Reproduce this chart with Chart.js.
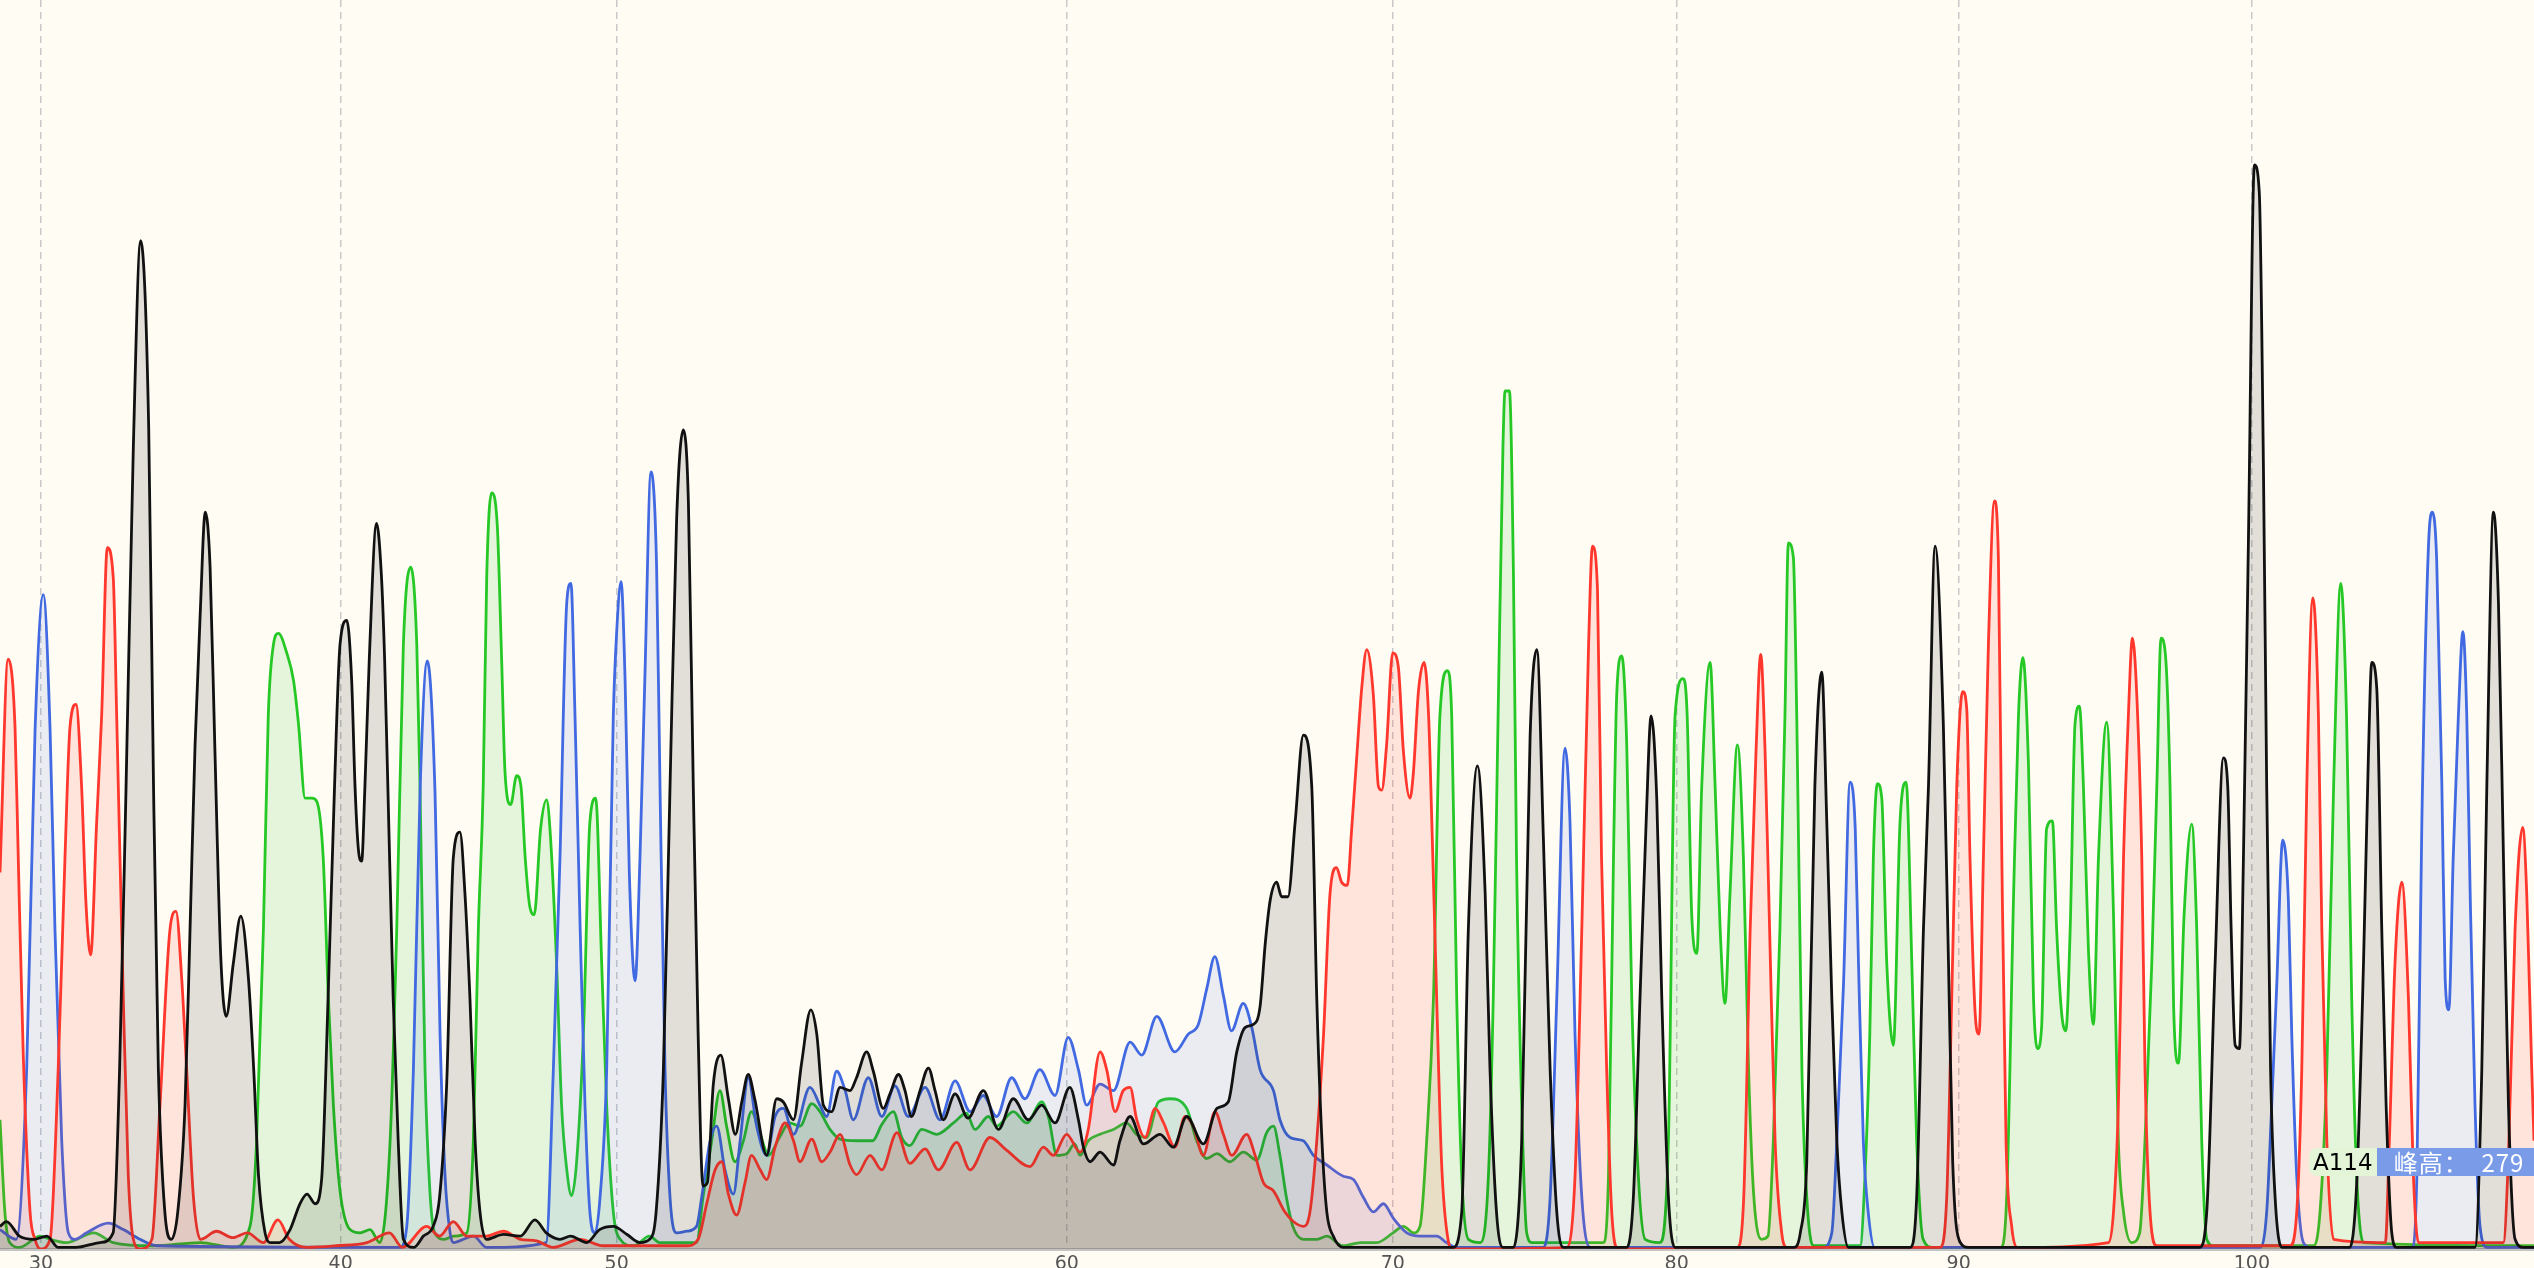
<!DOCTYPE html>
<html>
<head>
<meta charset="utf-8">
<script src="https://cdn.jsdelivr.net/npm/chart.js@4.4.1/dist/chart.umd.min.js"></script>
<style>
  html, body { margin: 0; padding: 0; background: #fffcf4; overflow: hidden; }
  #wrap { position: relative; width: 2534px; height: 1268px; }
  #peakTip { position: absolute; left: 2309px; top: 1148px; height: 28px; display: flex; font-family: "DejaVu Sans", "Noto Sans CJK SC", sans-serif; font-size: 23px; line-height: 28px; }
  #peakTip .base { background: #e3f5d6; color: #000; padding: 0 4px 0 4px; border-radius: 8px 0 0 8px; }
  #peakTip .height { background: #7a9be8; color: #fff; width: 141px; padding-left: 17px; white-space: pre; font-size: 24px; letter-spacing: 1px; font-family: "Noto Sans CJK SC", sans-serif; }
</style>
</head>
<body>
<div id="wrap">
  <canvas id="trace"></canvas>
  <div id="peakTip"><span class="base">A114</span><span class="height">峰高：  279</span></div>
</div>
<script>
// scan position of each labelled base, and its label
const tickScans = [25.4, 210.8, 381.6, 660.1, 861.8, 1037.5, 1212, 1393.4];
const tickLabels = ['30', '40', '50', '60', '70', '80', '90', '100'];

// traces: [scan, signal]
const traceG = [[0,14],[4,17],[12,8],[21,6],[29,8],[36,1],[47,1],[62,4],[70,10],[74,111],[78,286],[82.5,496],[87,624],[92,509],[95,286],[98,111],[102,23],[106,6],[110,23],[114.5,89],[117.6,198],[120.7,312],[124,396],[127,456],[130,422],[133,308],[136.6,181],[140,144],[144.4,177],[149,206],[153.7,168],[157,111],[160,45],[164,10],[167,4],[173,4],[179.5,12],[185.6,28],[190,34],[195,28],[199,43],[203,155],[207,286],[210.4,374],[214.6,389],[217.6,352],[219.7,286],[221.8,247],[223.8,240],[225.8,286],[228.5,365],[233,449],[236,417],[238,365],[240,286],[243.3,155],[246.4,67],[249.6,6],[256,1],[262,8],[268,14],[272,32],[276.4,102],[280.5,242],[284.6,258],[287.7,220],[290.8,155],[294,67],[297,23],[301,6],[311.5,9],[322,8],[331,18],[338,10],[346.5,6],[353,8],[363,4],[371,12],[379.5,14],[388,9],[396,4],[402,6],[406,23],[410.5,111],[414.6,286],[418.7,452],[422.8,507],[426,461],[429,286],[432,133],[435,39],[437.7,41],[441.4,102],[446,120],[450.7,93],[455,71],[459,91],[463,108],[467,93],[474.4,58],[480.6,93],[484.7,91],[491,80],[496,115],[501.7,148],[505.4,133],[509.5,89],[514.6,85],[519.8,100],[526,98],[530,106],[536.3,122],[540.4,110],[546.6,87],[550.7,96],[556,108],[560,98],[564,82],[569.3,98],[574.5,112],[578.6,98],[583.7,80],[591,96],[599,81],[608.5,98],[617.8,74],[627,93],[636.3,80],[644.6,89],[652.8,78],[662,100],[667.3,80],[670.4,63],[674.5,54],[680.7,60],[689,52],[693,67],[699.3,82],[707.5,65],[717.8,71],[726,63],[734.3,82],[744.6,65],[753,87],[760,91],[765.3,122],[770.4,137],[775.6,139],[779.7,150],[783,190],[786,216],[790,227],[793,218],[797,218],[801.4,264],[806.5,318],[811.7,286],[814.8,155],[818,67],[821,23],[825,8],[831,1],[899,1],[904.5,23],[908.6,198],[914.2,299],[919,220],[922,111],[926,23],[930,1],[936.5,1],[941.6,67],[946.8,317],[951,371],[955,255],[959.2,111],[963.3,23],[967.4,1],[1006.6,1],[1010.7,32],[1014.8,155],[1018.6,264],[1021.7,330],[1025.2,278],[1028.3,155],[1032.4,32],[1036.5,1],[1110,1],[1114,10],[1118,54],[1123,286],[1127.3,357],[1130.4,264],[1133.5,155],[1136.6,67],[1139.7,23],[1143.8,1],[1182,1],[1186,32],[1190.2,198],[1193.3,286],[1197.4,435],[1202.5,325],[1205.7,177],[1208.3,54],[1213,4],[1218,1],[1361,1],[1365.5,23],[1370.7,177],[1375.8,304],[1378.5,286],[1380.6,198],[1383.1,126],[1385.7,124],[1388.2,242],[1391.3,439],[1395,671],[1398,654],[1400.6,482],[1402.6,286],[1405,111],[1407.8,32],[1412,1],[1454,1],[1458.3,41],[1462.5,177],[1465.5,304],[1467.6,363],[1470.7,347],[1473.8,198],[1476.5,89],[1480,10],[1483,1],[1531.5,1],[1535.7,111],[1538.8,286],[1542.9,456],[1546,400],[1549.1,242],[1552.2,89],[1556.3,6],[1561.5,1],[1568,1]];

const traceA = [[0,80],[3,23],[6,4],[12,1],[25,8],[31,6],[41,4],[58,10],[70,4],[95,2],[124,4],[144,1],[154.7,14],[158.8,67],[163,198],[166,330],[169.2,374],[172.3,381],[177.4,369],[181.6,352],[184.7,325],[188.8,279],[193,279],[196,277],[200,242],[203.2,155],[206.3,89],[210.4,36],[216.6,12],[222.8,10],[229,12],[235,4],[241.4,67],[245.5,198],[249.6,374],[254.2,422],[257.9,374],[260,280],[263,111],[266,36],[269,10],[275,6],[280.5,8],[288.8,10],[292.9,67],[296,198],[299,286],[301.2,417],[304.2,468],[307.7,448],[310.4,365],[312.5,295],[316,275],[319.7,293],[322.4,286],[325,242],[328,211],[330.6,207],[334.5,260],[338.2,278],[340.3,260],[344.4,177],[347.5,89],[350.6,50],[353.7,33],[356.8,54],[361,133],[365,264],[368.6,279],[372.3,177],[375.4,89],[379.5,23],[383.7,6],[392,2],[402,8],[408,4],[423,4],[431,4],[435,32],[440.4,67],[445.5,98],[449.6,76],[454.8,54],[460,67],[465,85],[470.4,71],[475.6,58],[482.3,69],[488.5,78],[495,76],[502.3,90],[507.4,85],[513.6,74],[519.8,68],[530,67],[540,67],[545.6,77],[552.8,85],[558,69],[563,64],[570.3,74],[579.6,71],[590,78],[598,84],[603.3,74],[611.6,82],[616.7,76],[627,85],[635.3,78],[644.6,91],[648.7,82],[654,58],[660,59],[665,65],[668.3,58],[673.4,67],[680.7,71],[689,74],[697,78],[703.3,71],[709.5,69],[716.8,91],[724,93],[734.3,87],[740.5,67],[746.7,56],[753,59],[761,54],[769.4,60],[777.7,55],[783.8,72],[788,76],[792,58],[796,32],[800,14],[806.5,6],[815,6],[821,8],[831,2],[842,4],[852,4],[862,10],[868.4,14],[874.6,10],[878.7,14],[882.8,67],[887,155],[891,330],[895.6,358],[898.3,330],[901.4,155],[904.5,45],[908.6,6],[916,4],[921,45],[924,155],[927,330],[930,496],[931.3,531],[934,531],[936.5,417],[938.4,242],[941.6,89],[944.7,10],[948,4],[992,4],[995.3,45],[998.4,242],[1000.4,343],[1003.5,367],[1006.6,312],[1009.7,155],[1013.8,45],[1018,6],[1027,4],[1032.4,67],[1036.5,330],[1041.5,353],[1044,330],[1046.8,207],[1050,183],[1053,286],[1058.2,363],[1061.3,286],[1064.4,198],[1067.4,152],[1070.5,220],[1075.1,312],[1078.8,242],[1082,111],[1085,36],[1090,6],[1094,8],[1097.3,67],[1101.4,198],[1104.5,330],[1106.6,437],[1109.7,428],[1111.8,330],[1115,111],[1118,32],[1122,2],[1151,2],[1154,45],[1157,133],[1159.2,242],[1161.7,288],[1164.4,279],[1167.5,177],[1171.6,126],[1175.7,264],[1179.5,289],[1183,177],[1186,67],[1190,6],[1196,1],[1238,1],[1241.7,32],[1246,220],[1249,330],[1251.7,366],[1255.2,299],[1258.3,155],[1260.7,124],[1263.3,137],[1266.4,260],[1270,265],[1272.6,198],[1275.7,146],[1278.3,135],[1281,198],[1284,325],[1286.7,336],[1289.2,286],[1292.3,185],[1295.4,139],[1298.5,242],[1303.6,326],[1307.8,207],[1310.8,67],[1314,23],[1319,4],[1324,10],[1327.3,67],[1331.5,177],[1334.6,286],[1337.2,378],[1340,367],[1342.8,286],[1345,150],[1348,115],[1351.5,207],[1356.2,263],[1359.3,198],[1362.4,67],[1365.5,6],[1370,2],[1431.5,2],[1435.6,23],[1439.8,111],[1444,286],[1448.4,412],[1452,330],[1455.2,155],[1458.3,45],[1462.5,4],[1568,2]];

const traceC = [[0,12],[10,6],[16.5,111],[21.7,321],[26.8,405],[31,321],[34,198],[38.2,67],[42.3,10],[46.4,6],[53.6,10],[67,16],[76.3,12],[86.6,6],[97,2],[247.5,1],[251.7,14],[255.8,111],[260,286],[264.4,364],[269.2,282],[272.3,133],[275.4,45],[278.5,10],[280.5,4],[293,8],[301,1],[338,4],[342.4,111],[346.5,242],[350.7,400],[353.3,412],[355.8,330],[359,198],[362,89],[365,23],[368.2,10],[371.3,32],[375.4,111],[379.5,330],[381.6,382],[384.3,413],[386.8,352],[389.4,233],[393,166],[396,242],[399,352],[402.8,481],[406.3,422],[408.4,286],[411.5,111],[414.6,32],[418.7,10],[425,11],[431,14],[434.2,32],[439.4,67],[443.5,76],[448.6,49],[453.8,34],[458,67],[463,106],[468.2,76],[474.4,58],[479.6,82],[484.7,87],[491,71],[501.2,100],[507.4,89],[511.5,82],[517.7,110],[523,98],[528,80],[537.3,106],[545.6,82],[553.8,101],[562,82],[572.4,100],[581.7,80],[591,104],[600.3,85],[608.4,95],[616.7,82],[626,106],[634.2,93],[643.5,111],[652.8,95],[661,131],[667.3,111],[672.4,89],[680.7,102],[689,98],[699.3,128],[706.5,120],[715.8,144],[727,122],[735.3,133],[741.5,139],[746.7,161],[751.7,181],[757,157],[762,135],[769.3,152],[774.6,137],[779.7,111],[788,98],[792,80],[798.3,69],[806.5,67],[812.7,58],[821,52],[831.3,45],[837.5,43],[843.6,32],[849.8,23],[856,28],[862.2,19],[870.5,10],[878.7,8],[889,8],[895,4],[901.4,1],[955,1],[959.2,32],[963.3,155],[968.4,310],[971.5,264],[974.6,133],[978.8,32],[984,1],[1128,1],[1133.5,10],[1136.6,67],[1140.7,163],[1144.8,289],[1148,260],[1150,177],[1153,67],[1156,23],[1160,1],[1398.5,1],[1402.6,23],[1405.7,89],[1408.8,163],[1412.5,253],[1416,216],[1418.1,133],[1421.2,45],[1425.3,4],[1430,1],[1492.4,1],[1495.5,45],[1498.6,264],[1502.7,435],[1505.2,456],[1507.8,426],[1511,286],[1513,168],[1515.3,148],[1518,242],[1521.2,330],[1524,382],[1526.4,330],[1528.5,220],[1531.5,89],[1534.6,14],[1539,1],[1568,1]];

const traceT = [[0,233],[5,365],[9.3,323],[11.3,242],[14.4,120],[18.6,23],[21.7,6],[25,0],[31,6],[36,111],[40.2,242],[43.3,323],[47,337],[50.5,286],[53.2,214],[56.1,182],[59.8,264],[62.9,330],[66.4,434],[70.1,415],[72.2,330],[76.3,155],[79.4,45],[82.5,6],[86.6,0],[94,6],[99,89],[105.2,198],[108.9,209],[112.4,168],[115.5,111],[119.7,32],[124,6],[134,11],[144,7],[153,10],[163,4],[172,18],[179,6],[190,1],[208,2],[227,4],[241,10],[249,1],[264,14],[272,8],[280.5,17],[288.8,8],[301,8],[311.5,11],[322,6],[332,5],[342,1],[359,6],[373,2],[394,2],[425,2],[432,6],[437.3,28],[442.5,49],[446.6,54],[450.7,34],[455.8,21],[461,41],[465,58],[470.4,49],[474.4,43],[479.6,63],[485.8,78],[491,67],[495,54],[502.3,68],[508.5,54],[513.6,60],[519.8,71],[526,52],[530,46],[538.4,58],[545.6,49],[555,72],[563,53],[572.4,62],[580.7,49],[592,66],[600.2,49],[612.6,69],[623,61],[637.4,51],[645.6,63],[651.8,58],[660,71],[668.3,60],[673.4,74],[680.7,122],[684.8,111],[690,85],[695,98],[699.3,100],[703.4,80],[708.5,69],[714.8,87],[720,78],[727,63],[733.3,82],[738.4,76],[744.6,58],[751.8,85],[757,71],[762.2,58],[771.4,71],[776.6,58],[781.8,41],[788,36],[795,23],[800.3,17],[806.5,14],[810.6,23],[814.8,67],[819,133],[823,220],[827,236],[830.2,227],[833.7,225],[836.4,260],[839.5,304],[842.6,347],[845.7,371],[849.8,343],[853,286],[855,284],[858,312],[861.8,369],[865.3,360],[868.4,308],[872.5,279],[874.6,295],[877.7,345],[881.2,363],[884,330],[886,264],[889,155],[892,54],[896,6],[899,0],[969.5,1],[974.6,45],[978.8,198],[983,374],[985.4,435],[988.5,408],[991,242],[994.2,111],[997.3,23],[1001.4,0],[1075,1],[1079,32],[1083,198],[1086.6,308],[1089.5,368],[1092.2,308],[1095,198],[1098.4,67],[1102.5,10],[1105.6,1],[1200.5,1],[1204.6,32],[1207.7,155],[1210.8,286],[1214.5,345],[1217,334],[1219,242],[1222.2,146],[1224.6,133],[1227.3,242],[1230.4,374],[1234.1,463],[1236.6,426],[1238.7,242],[1241.3,67],[1244.8,14],[1248,1],[1304.7,4],[1307.8,23],[1310.8,89],[1314,242],[1317,330],[1319.5,378],[1322.2,343],[1325.3,242],[1327.3,111],[1330.4,23],[1334.6,2],[1417,2],[1421.2,23],[1424.3,111],[1427.4,286],[1431.1,403],[1434.6,330],[1436.7,198],[1439.8,67],[1444,6],[1476,4],[1478.5,67],[1482,177],[1486.2,227],[1490.3,155],[1493.4,45],[1496.5,4],[1549,4],[1552.2,58],[1556.3,198],[1561,261],[1563.5,220],[1566.6,111],[1568,67]];

function trace(label, data, line, fill) {
    return {
        label: label,
        data: data,
        borderColor: line,
        backgroundColor: fill,
        borderWidth: 2.8,
        fill: 'origin',
        pointRadius: 0,
        cubicInterpolationMode: 'monotone'
    };
}

const ctx = document.getElementById('trace').getContext('2d');
new Chart(ctx, {
    type: 'line',
    data: {
        datasets: [
            trace('G', traceG, '#111111', 'rgba(17,17,17,0.12)'),
            trace('T', traceT, 'rgb(255,55,45)', 'rgba(255,55,45,0.12)'),
            trace('C', traceC, 'rgb(65,105,225)', 'rgba(65,105,225,0.11)'),
            trace('A', traceA, 'rgb(38,200,38)', 'rgba(38,200,38,0.12)')
        ]
    },
    options: {
        responsive: true,
        maintainAspectRatio: false,
        animation: false,
        layout: { padding: 0 },
        plugins: {
            legend: { display: false },
            tooltip: { enabled: false }
        },
        scales: {
            x: {
                type: 'linear',
                min: 0,
                max: 1568,
                afterBuildTicks: function(scale) {
                    scale.ticks = tickScans.map(v => ({ value: v }));
                },
                afterFit: function(scale) {
                    scale.height = 19;
                },
                grid: {
                    color: '#c9c9c9',
                    lineWidth: 1.5,
                    drawTicks: false
                },
                border: {
                    display: true,
                    color: '#c4c4c4',
                    width: 3,
                    dash: [7, 5]
                },
                ticks: {
                    autoSkip: false,
                    maxRotation: 0,
                    padding: 4,
                    color: '#555555',
                    font: { family: 'DejaVu Sans', size: 19 },
                    callback: function(value, index) {
                        return tickLabels[index];
                    }
                }
            },
            y: {
                display: false,
                min: 0,
                max: 773
            }
        }
    }
});
</script>
</body>
</html>
